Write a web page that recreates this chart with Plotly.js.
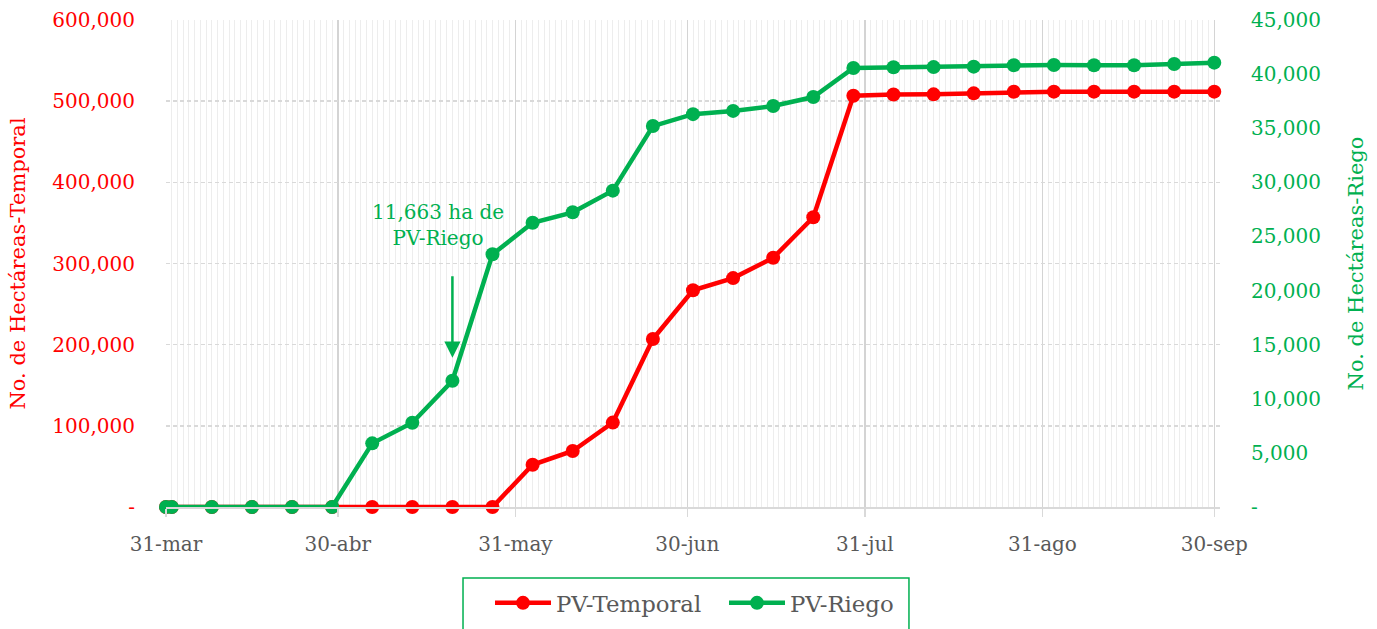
<!DOCTYPE html>
<html>
<head>
<meta charset="utf-8">
<script src="https://cdn.plot.ly/plotly-3.0.1.min.js"></script>
<style>html,body{margin:0;padding:0;background:#fff;}#chart{width:1377px;height:629px;}</style>
</head>
<body>
<div id="chart"></div>
<script>
// Data
const dates = ['2020-03-31','2020-04-01','2020-04-08','2020-04-15','2020-04-22','2020-04-29','2020-05-06','2020-05-13','2020-05-20','2020-05-27','2020-06-03','2020-06-10','2020-06-17','2020-06-24','2020-07-01','2020-07-08','2020-07-15','2020-07-22','2020-07-29','2020-08-05','2020-08-12','2020-08-19','2020-08-26','2020-09-02','2020-09-09','2020-09-16','2020-09-23','2020-09-30'];
const pvTemporal = [0,0,0,0,0,0,0,0,0,0,52000,69000,104000,207000,267000,282000,307000,357000,506700,508300,508400,509600,511600,511700,511700,511700,511700,511700];
const pvRiego = [0,0,0,0,0,0,5880,7790,11663,23350,26270,27230,29230,35200,36300,36600,37050,37880,40570,40640,40650,40690,40820,40840,40820,40820,40940,41060];
const xTickVals = ['2020-03-31','2020-04-30','2020-05-31','2020-06-30','2020-07-31','2020-08-31','2020-09-30'];
const xTickText = ['31-mar','30-abr','31-may','30-jun','31-jul','31-ago','30-sep'];
const yLeftVals = [0,100000,200000,300000,400000,500000,600000];
const yLeftText = ['-','100,000','200,000','300,000','400,000','500,000','600,000'];
const yRightVals = [0,5000,10000,15000,20000,25000,30000,35000,40000,45000];
const yRightText = ['-','5,000','10,000','15,000','20,000','25,000','30,000','35,000','40,000','45,000'];
const annText = '11,663 ha de<br>PV-Riego';
const annIndex = 8;

const RED = '#ff0000', GREEN = '#00b050', GRAY = '#595959';
const FONT = 'DejaVu Serif, Liberation Serif, serif';

const traces = [
  {x: dates, y: pvTemporal, name: 'PV-Temporal', type: 'scatter', mode: 'lines+markers',
   line: {color: RED, width: 4.5}, marker: {color: RED, size: 14}, cliponaxis: false, yaxis: 'y'},
  {x: dates, y: pvRiego, name: 'PV-Riego', type: 'scatter', mode: 'lines+markers',
   line: {color: GREEN, width: 4.5}, marker: {color: GREEN, size: 14}, cliponaxis: false, yaxis: 'y2'}
];

const layout = {
  width: 1377, height: 629,
  margin: {l: 166, r: 157, t: 20, b: 122},
  paper_bgcolor: '#ffffff', plot_bgcolor: '#ffffff',
  font: {family: FONT, size: 20, color: GRAY},
  showlegend: true,
  legend: {orientation: 'h', x: 0.3074, xanchor: 'left', xref: 'paper', y: 0.0413, yanchor: 'middle', yref: 'container',
           font: {family: FONT, size: 22.8, color: GRAY}, itemwidth: 56, entrywidth: 163, bgcolor: 'rgba(0,0,0,0)'},
  xaxis: {
    type: 'date', range: ['2020-03-31', '2020-10-01'], automargin: false,
    tickmode: 'array', tickvals: xTickVals, ticktext: xTickText,
    tickfont: {family: FONT, size: 20, color: GRAY},
    ticks: 'outside', ticklen: 8, tickwidth: 1.5, tickcolor: '#d9d9d9', ticklabelstandoff: 10,
    showgrid: true, gridcolor: '#d4d4d4', gridwidth: 1.5,
    minor: {tickmode: 'linear', tick0: '2020-03-31', dtick: 86400000, showgrid: true, gridcolor: '#ededed', gridwidth: 1},
    showline: true, linecolor: '#d9d9d9', linewidth: 1.5, zeroline: false, fixedrange: true
  },
  yaxis: {
    range: [0, 600000], automargin: false, tickmode: 'array', tickvals: yLeftVals, ticktext: yLeftText,
    tickfont: {family: FONT, size: 20, color: RED}, ticklabelstandoff: 30,
    showgrid: true, gridcolor: '#d9d9d9', gridwidth: 1.5, griddash: '4px,3px',
    zeroline: false, showline: false,
    title: {text: 'No. de Hectáreas-Temporal', font: {family: FONT, size: 21, color: RED}, standoff: 20}
  },
  yaxis2: {
    range: [0, 45000], automargin: false, overlaying: 'y', side: 'right', tickmode: 'array', tickvals: yRightVals, ticktext: yRightText,
    tickfont: {family: FONT, size: 20, color: GREEN}, ticklabelstandoff: 30,
    showgrid: false, zeroline: false, showline: false,
    title: {text: 'No. de Hectáreas-Riego', font: {family: FONT, size: 21, color: GREEN}, standoff: 28}
  },
  shapes: [
    {type: 'rect', xref: 'paper', yref: 'paper', x0: 0.2818, x1: 0.7049, y0: -0.27, y1: -0.1458,
     line: {color: GREEN, width: 1.5}, fillcolor: 'rgba(0,0,0,0)', layer: 'above'}
  ],
  annotations: [
    {x: dates[annIndex], y: pvRiego[annIndex], xref: 'x', yref: 'y2', text: annText, showarrow: false,
     xshift: -14, yshift: 156, font: {family: FONT, size: 20, color: GREEN}, align: 'center'},
    {x: dates[annIndex], y: pvRiego[annIndex], xref: 'x', yref: 'y2', text: '', showarrow: true,
     ax: 0, ay: -106, standoff: 23, arrowhead: 2, arrowsize: 1.3, arrowwidth: 2.5, arrowcolor: GREEN}
  ]
};

Plotly.newPlot('chart', traces, layout, {displayModeBar: false, staticPlot: true});
</script>
</body>
</html>
